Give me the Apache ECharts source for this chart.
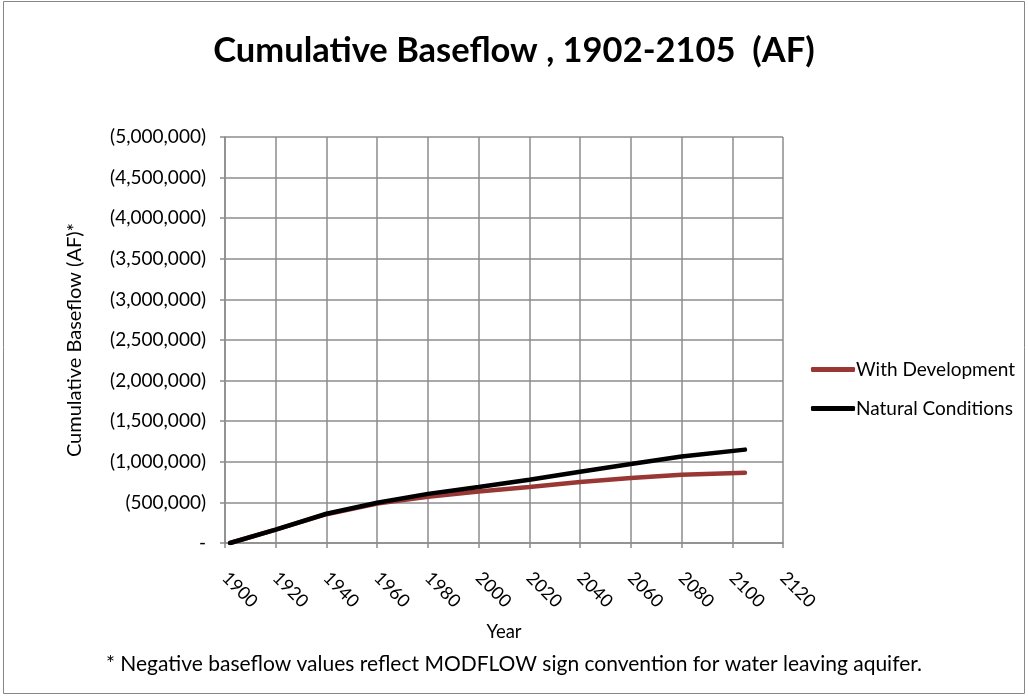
<!DOCTYPE html>
<html>
<head>
<meta charset="utf-8">
<script src="https://cdn.jsdelivr.net/npm/echarts@6/dist/echarts.min.js"></script>
<style>
  html, body { margin: 0; padding: 0; background: #fff; }
  #main { width: 1028px; height: 696px; }
</style>
</head>
<body>
<div id="main"></div>
<script>
// years
var years = [1902, 1920, 1940, 1960, 1980, 2000, 2020, 2040, 2060, 2080, 2105];
// cumulative baseflow (AF), negative = leaving aquifer
var withDevelopment = [0, -165000, -355000, -485000, -570000, -635000, -690000, -750000, -800000, -840000, -865000];
var naturalConditions = [0, -165000, -360000, -495000, -605000, -690000, -778000, -878000, -972000, -1065000, -1150000];
var seriesNames = ["With Development", "Natural Conditions"];

function pairs(xs, ys) {
	var out = [];
	for (var i = 0; i < xs.length; i++) out.push([xs[i], ys[i]]);
	return out;
}

function fmtAF(v) {
	if (v == 0) return "-";
	var s = Math.abs(v).toString().replace(/\B(?=(\d{3})+(?!\d))/g, ",");
	return v < 0 ? "(" + s + ")" : s;
}

var font = "Lato, 'Open Sans', sans-serif";
var myChart = echarts.init(document.getElementById('main'));
myChart.setOption({
	animation : false,
	backgroundColor : '#fff',
	title : {
		text : 'Cumulative Baseflow , 1902-2105  (AF)',
		left : 'center',
		top : 28,
		textStyle : { fontFamily : font, fontSize : 34.5, fontWeight : 'bold', color : '#000' }
	},
	legend : {
		orient : 'vertical',
		left : 806,
		top : 355,
		itemGap : 20,
		itemWidth : 44,
		itemHeight : 5,
		icon : 'roundRect',
		textStyle : { fontFamily : font, fontSize : 19, color : '#000', padding : [0, 0, 0, -4] },
		data : seriesNames
	},
	grid : { left : 225, top : 137, right : 245, bottom : 153 },
	xAxis : {
		type : 'value',
		min : 1900,
		max : 2120,
		interval : 20,
		name : 'Year',
		nameLocation : 'middle',
		nameGap : 80,
		nameTextStyle : { fontFamily : font, fontSize : 18.5, color : '#000' },
		axisLine : { show : true, lineStyle : { color : '#8c8c8c', width : 1.5 } },
		axisTick : { show : true, length : 5, lineStyle : { color : '#8c8c8c', width : 1.5 } },
		splitLine : { show : true, lineStyle : { color : '#8c8c8c', width : 1.5 } },
		axisLabel : {
			rotate : -45, fontFamily : font, fontSize : 18, color : '#000', margin : 32,
			formatter : function(v) { return String(v); }
		}
	},
	yAxis : {
		type : 'value',
		inverse : true,
		min : -5000000,
		max : 0,
		interval : 500000,
		name : 'Cumulative Baseflow (AF)*',
		nameLocation : 'middle',
		nameGap : 140,
		nameTextStyle : { fontFamily : font, fontSize : 20, color : '#000' },
		axisLine : { show : true, lineStyle : { color : '#8c8c8c', width : 1.5 } },
		axisTick : { show : true, length : 5, lineStyle : { color : '#8c8c8c', width : 1.5 } },
		splitLine : { show : true, lineStyle : { color : '#8c8c8c', width : 1.5 } },
		axisLabel : { fontFamily : font, fontSize : 19, color : '#000', margin : 19, formatter : fmtAF }
	},
	series : [ {
		name : seriesNames[0],
		type : 'line',
		showSymbol : false,
		color : '#993735',
		lineStyle : { width : 4.5, cap : 'round' },
		data : pairs(years, withDevelopment)
	}, {
		name : seriesNames[1],
		type : 'line',
		showSymbol : false,
		color : '#000',
		lineStyle : { width : 4.5, cap : 'round' },
		data : pairs(years, naturalConditions)
	} ],
	graphic : [ {
		type : 'rect',
		shape : { x : 3.5, y : 1.5, width : 1021, height : 692 },
		style : { fill : null, stroke : '#868686', lineWidth : 1 },
		silent : true
	}, {
		type : 'text',
		left : 'center',
		top : 654,
		style : {
			text : '* Negative baseflow values reflect MODFLOW sign convention for water leaving aquifer.',
			font : '21px ' + font,
			fill : '#000'
		}
	} ]
});
</script>
</body>
</html>
